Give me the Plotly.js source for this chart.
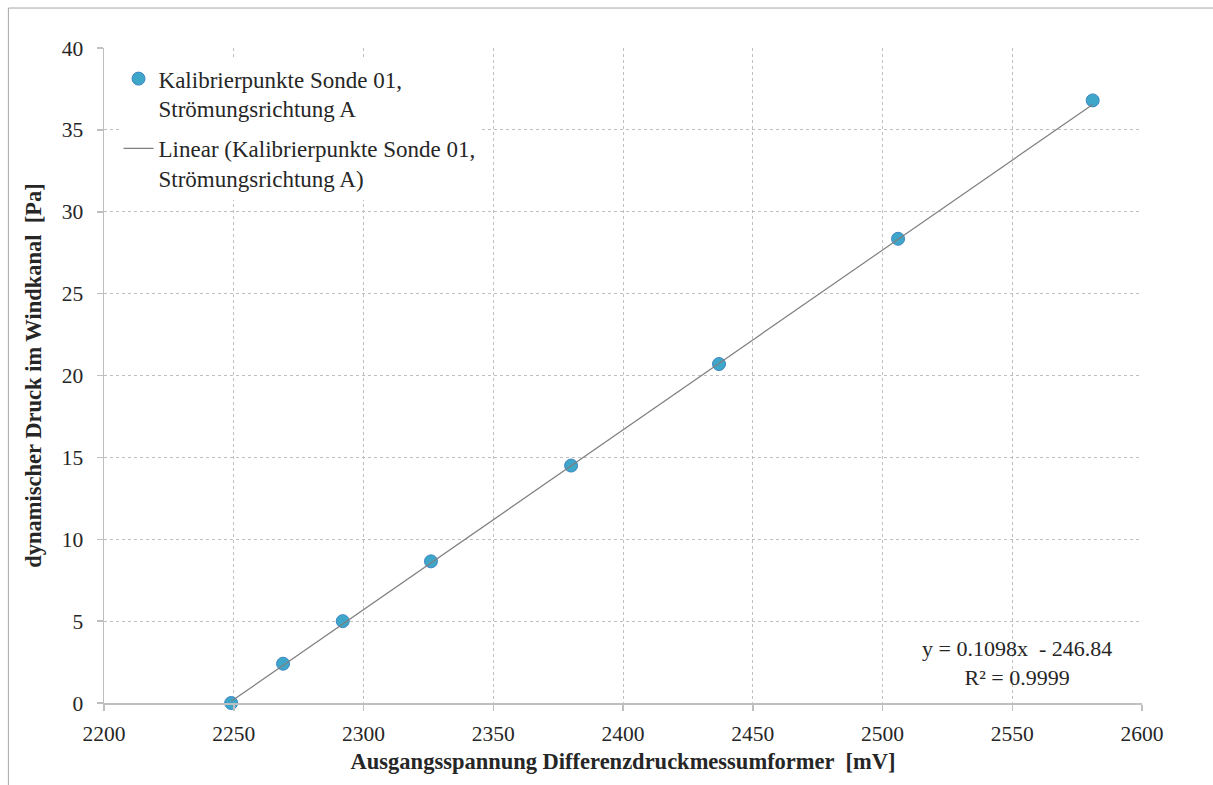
<!DOCTYPE html>
<html>
<head>
<meta charset="utf-8">
<script src="https://cdn.plot.ly/plotly-3.0.1.min.js"></script>
<style>
html,body{margin:0;padding:0;background:#fff;}
#chart{width:1213px;height:785px;}
</style>
</head>
<body>
<div id="chart"></div>
<script>
// Data
const voltageMv = [2249, 2269, 2292, 2326, 2380, 2437, 2506, 2581];
const pressurePa = [0, 2.4, 5.0, 8.65, 14.5, 20.7, 28.35, 36.8];
const trendSlope = 0.1098;
const trendIntercept = -246.84;
const rSquared = 0.9999;
const xTicks = [2200, 2250, 2300, 2350, 2400, 2450, 2500, 2550, 2600];
const yTicks = [0, 5, 10, 15, 20, 25, 30, 35, 40];

const seriesName = 'Kalibrierpunkte Sonde 01,<br>Strömungsrichtung A';
const trendName = 'Linear (Kalibrierpunkte Sonde 01,<br>Strömungsrichtung A)';

const xMin = Math.min(...voltageMv);
const xMax = Math.max(...voltageMv);
const trendX = [xMin, xMax];
const trendY = trendX.map(x => trendSlope * x + trendIntercept);

const serif = "'Liberation Serif'";
const textColor = '#262626';
const gridColor = '#bfbfbf';

const traces = [
  {
    x: voltageMv, y: pressurePa, type: 'scatter', mode: 'markers',
    name: seriesName, legendgroup: 'a',
    marker: {size: 13, color: '#3ea6c8', line: {color: '#3f86c6', width: 1}},
    cliponaxis: false
  },
  {
    x: trendX, y: trendY, type: 'scatter', mode: 'lines',
    name: trendName, legendgroup: 'b',
    line: {color: '#7f7f7f', width: 1.2}
  }
];

const axisCommon = {
  showline: true, linecolor: gridColor, linewidth: 1.5,
  ticks: 'outside', ticklen: 6, tickcolor: gridColor, tickwidth: 1.5,
  showgrid: true, gridcolor: gridColor, gridwidth: 1, griddash: '3px,3px',
  zeroline: false,
  tickfont: {family: serif, size: 21.5, color: textColor}
};

const layout = {
  width: 1213, height: 785,
  margin: {l: 103.5, r: 71, t: 48, b: 82},
  paper_bgcolor: '#ffffff', plot_bgcolor: '#ffffff',
  font: {family: serif, size: 21.5, color: textColor},
  showlegend: true,
  legend: {
    x: 0.014, y: 0.986, xanchor: 'left', yanchor: 'top',
    bgcolor: 'rgba(255,255,255,1)', borderwidth: 0,
    font: {family: serif, size: 23, color: textColor},
    valign: 'top', tracegroupgap: 7, itemwidth: 30
  },
  xaxis: Object.assign({}, axisCommon, {
    range: [2200, 2600], tickvals: xTicks, ticktext: xTicks.map(String),
    ticklabelstandoff: 5,
    title: {text: 'Ausgangsspannung Differenzdruckmessumformer  [mV]', standoff: 8,
            font: {family: serif, size: 22.5, color: textColor, weight: 'bold'}}
  }),
  yaxis: Object.assign({}, axisCommon, {
    range: [0, 40], tickvals: yTicks, ticktext: yTicks.map(String),
    ticklabelstandoff: 9,
    title: {text: 'dynamischer Druck im Windkanal  [Pa]', standoff: 14,
            font: {family: serif, size: 22.5, color: textColor, weight: 'bold'}}
  }),
  annotations: [{
    xref: 'paper', yref: 'paper', x: 0.880, y: 0.061,
    xanchor: 'center', yanchor: 'middle', showarrow: false, align: 'center',
    text: 'y = ' + trendSlope + 'x  - ' + Math.abs(trendIntercept) + '<br>R² = ' + rSquared,
    font: {family: serif, size: 22, color: textColor}
  }],
  shapes: [
    {type: 'line', xref: 'paper', yref: 'paper', x0: -0.0921, x1: -0.0921, y0: -0.2, y1: 1.061,
     line: {color: '#a6a6a6', width: 1}},
    {type: 'line', xref: 'paper', yref: 'paper', x0: -0.0921, x1: 1.2, y0: 1.061, y1: 1.061,
     line: {color: '#a6a6a6', width: 1}}
  ]
};

Plotly.newPlot('chart', traces, layout, {displayModeBar: false, staticPlot: true});
</script>
</body>
</html>
